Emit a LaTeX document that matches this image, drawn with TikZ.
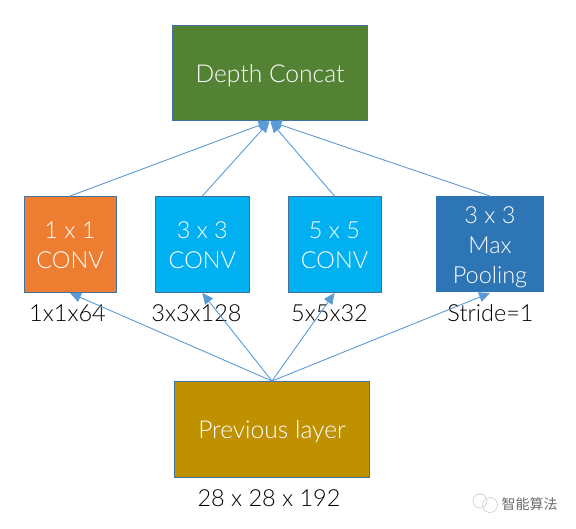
\documentclass[tikz,border=0pt]{standalone}
\usepackage{fontspec}
\setmainfont{Lato Light}
\newfontfamily\cjk{Noto Sans CJK SC}
\usetikzlibrary{arrows.meta}
\definecolor{edgeblue}{HTML}{41719C}
\definecolor{arrowblue}{HTML}{5B9BD5}
\newcommand{\lowertext}[2]{\raisebox{-#1}[\height][\depth]{\begin{tabular}{@{}c@{}}#2\end{tabular}}}
\tikzset{
  x=1pt,y=-1pt,
  box/.style={draw=edgeblue,line width=0.9pt,minimum width=#1,inner sep=0pt,text=white,align=center,font=\fontsize{23.5}{30}\selectfont},
  bigbox/.style={box=#1,font=\fontsize{24.6}{30}\selectfont},
  lab/.style={text=black,inner sep=0pt,font=\fontsize{23.5}{30}\selectfont},
  conn/.style={draw=arrowblue,line width=0.9pt,-{Triangle[length=11pt,width=10pt]}}
}
\begin{document}
\begin{tikzpicture}
\useasboundingbox (0,0) rectangle (576,529);
\node[bigbox=195pt,minimum height=95.5pt,fill={rgb,255:red,84;green,130;blue,53}] (depth) at (270,73.2) {\lowertext{3pt}{Depth Concat}};
\node[box=92pt,minimum height=96pt,fill={rgb,255:red,237;green,125;blue,49}] (b1) at (70,244.5) {\lowertext{3pt}{1 x 1\\CONV}};
\node[box=94.5pt,minimum height=96pt,fill={rgb,255:red,0;green,176;blue,240}] (b2) at (202.3,244.5) {\lowertext{3pt}{3 x 3\\CONV}};
\node[box=93pt,minimum height=96pt,fill={rgb,255:red,0;green,176;blue,240}] (b3) at (334.5,244.5) {\lowertext{3pt}{5 x 5\\CONV}};
\node[box=108pt,minimum height=96pt,fill={rgb,255:red,46;green,117;blue,182},draw=none] (b4) at (490,244.5) {\lowertext{3pt}{3 x 3\\Max\\Pooling}};
\node[bigbox=195pt,minimum height=95.5pt,fill={rgb,255:red,191;green,144;blue,0}] (prev) at (272,429.2) {\lowertext{3pt}{Previous layer}};
\node[lab] (l1) at (67.5,313) {1x1x64};
\node[lab] (l2) at (196.5,313) {3x3x128};
\node[lab] (l3) at (329.5,313) {5x5x32};
\node[lab] (l4) at (490.5,313) {Stride=1};
\node[lab] (l5) at (269,498.5) {28 x 28 x 192};
\coordinate (inL) at (269.5,121.5);
\coordinate (inR) at (270.5,121.5);
\draw[conn] (b1.north) -- (inL);
\draw[conn] (b2.north) -- (inL);
\draw[conn] (b3.north) -- (inR);
\draw[conn] (b4.north) -- (inR);
\draw[conn] (prev.north) -- (b1.south);
\draw[conn] (prev.north) -- (b2.south);
\draw[conn] (prev.north) -- (b3.south);
\draw[conn] (prev.north) -- (b4.south);
\node[inner sep=0pt,text=black!58,font=\cjk\fontsize{14}{16}\selectfont] (wm) at (529.5,504) {智能算法};
\draw[black!18,line width=0.7pt] (480,501) circle (7) (490,505) circle (7.5);
\end{tikzpicture}
\end{document}
